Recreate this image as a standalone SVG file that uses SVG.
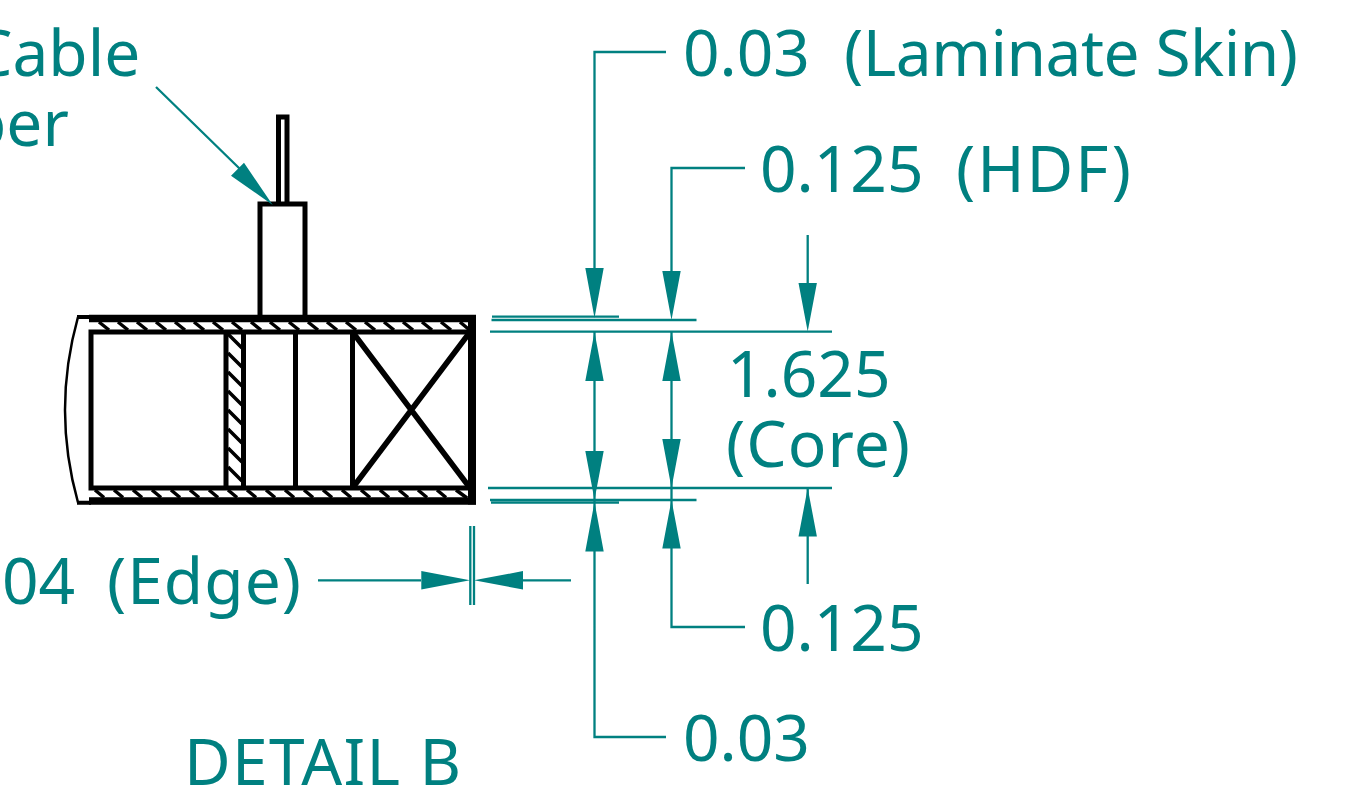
<svg xmlns="http://www.w3.org/2000/svg" width="1371" height="791" viewBox="0 0 1371 791">
<style>
text{font-family:"Noto Sans","Open Sans",sans-serif;font-size:64px;fill:#008080;white-space:pre}
.k{fill:none;stroke:#000;stroke-linecap:square;stroke-linejoin:miter}
.w4{stroke-width:5}
.d{fill:none;stroke:#008080;stroke-width:2.300}
.h{fill:#008080;stroke:none}
</style>
<rect width="1371" height="791" fill="#fff"/>
<g id="part-section">
<path fill="none" stroke="#000" stroke-width="7.500" d="M89 318.500H476M89 501H476"/>
<path fill="none" stroke="#000" stroke-width="2.500" d="M78 317Q52 410 78 502.500"/>
<path fill="none" stroke="#000" stroke-width="4" d="M77 317H91M77 502.700H91"/>
<path fill="none" stroke="#000" stroke-width="8" d="M472 315V504.500"/>
<path class="k w4" d="M91 332H470M91 488H470M91 332V488M226 332V488M243.500 332V488M295.500 332V488M352.500 332V488"/>
<path fill="none" stroke="#000" stroke-width="5.500" d="M352.500 332L470 488M352.500 488L470 332"/>
<path class="k w4" d="M260 315V204H305V315M278.500 204V117H287V204"/>
<g stroke="#000" stroke-width="3.500" fill="none">
<path d="M99 322l10 8M118 322l10 8M137 322l10 8M156 322l10 8M175 322l10 8M194 322l10 8M213 322l10 8M232 322l10 8M251 322l10 8M270 322l10 8M289 322l10 8M308 322l10 8M327 322l10 8M346 322l10 8M365 322l10 8M384 322l10 8M403 322l10 8M422 322l10 8M441 322l10 8M460 322l9 7.500"/>
<path d="M95 490l9 7.500M114 490l9 7.500M133 490l9 7.500M152 490l9 7.500M171 490l9 7.500M190 490l9 7.500M209 490l9 7.500M228 490l9 7.500M247 490l9 7.500M266 490l9 7.500M285 490l9 7.500M304 490l9 7.500M323 490l9 7.500M342 490l9 7.500M361 490l9 7.500M380 490l9 7.500M399 490l9 7.500M418 490l9 7.500M437 490l9 7.500M456 490l11 8"/>
<path d="M228 334l14 14M228 353l14 14M228 372l14 14M228 391l14 14M228 410l14 14M228 429l14 14M228 448l14 14M228 467l14 14"/>
</g>
</g>
<g id="connectors">
<path class="d" d="M492 316.700H619M491.500 320H696.500M490 331.700H832M488 488H832M490 500H696.500M491 502.700H619M470.300 526V605M474 526V605"/>
<path class="d" d="M666 52H594.500V268M594.500 332V551M594.500 551V737H666M745 168H671.500V271M671.500 332V548M671.500 548V627H745M807.700 235V283M807.700 488V584M318 580.300H421M523 580.300H571M156 87L240 169"/>
<path class="h" d="M585.300 268h18.400l-9.200 50zM662.300 271h18.400l-9.200 49zM798.500 283h18.400l-9.200 48.500zM585.300 381h18.400l-9.200-49zM662.300 381h18.400l-9.200-49zM585.300 451h18.400l-9.200 49zM662.300 439h18.400l-9.200 49zM585.300 551.500h18.400l-9.200-49.500zM662.300 548.500h18.400l-9.200-48.500zM798.500 536.500h18.400l-9.200-48.500zM421.300 571.100v18.400l48.700-9.200zM523 571.100v18.400l-49-9.200zM244 162.700L231 175.700L272.700 205z"/>
</g>
<g id="labels">
<text x="-28" y="76">Cable</text>
<text x="-33" y="146">ber</text>
<text x="683" y="76">0.03  <tspan x="844" textLength="454">(Laminate Skin)</tspan></text>
<text x="760" y="191.500">0.125  <tspan x="956" textLength="175">(HDF)</tspan></text>
<text x="727" y="396.500">1.625</text>
<text x="726" y="467" textLength="184">(Core)</text>
<text x="2" y="604">04  <tspan x="107" textLength="194">(Edge)</tspan></text>
<text x="760" y="651">0.125</text>
<text x="683" y="761">0.03</text>
<text x="184" y="785" textLength="277">DETAIL B</text>
</g>
</svg>
